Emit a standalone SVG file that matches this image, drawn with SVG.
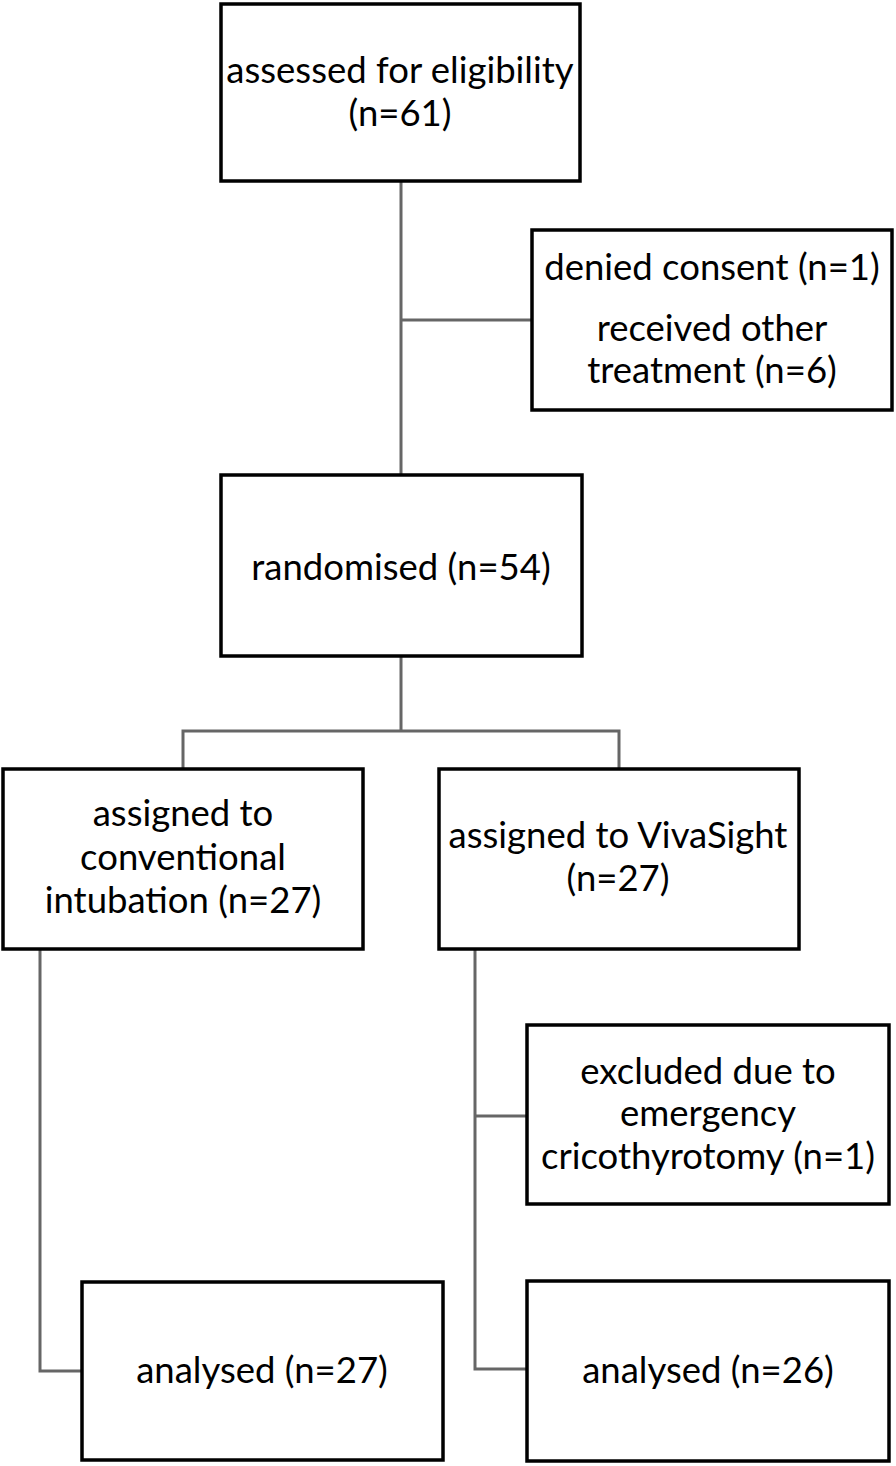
<svg xmlns="http://www.w3.org/2000/svg" width="896" height="1466" viewBox="0 0 896 1466">
<style>
.box{fill:#fff;stroke:#000;stroke-width:3.5}
.t{font-family:Lato,"Open Sans","Liberation Sans",sans-serif;font-size:36.5px;fill:#000;text-anchor:middle}
.c{fill:none;stroke:#666;stroke-width:3}
</style>
<rect width="896" height="1466" fill="#fff"/>
<g id="connectors">
<path class="c" d="M401 182V475M401 320H532"/>
<path class="c" d="M401 656V731M183 769V731H619V769"/>
<path class="c" d="M40 949V1371H82"/>
<path class="c" d="M475 949V1369H527M475 1116H527"/>
</g>
<g id="n1"><rect class="box" x="221" y="4" width="359" height="177"/>
<text class="t" x="400" y="83">assessed for eligibility</text>
<text class="t" x="400" y="126">(n=61)</text></g>
<g id="n2"><rect class="box" x="532" y="230" width="360" height="180"/>
<text class="t" x="712" y="280">denied consent (n=1)</text>
<text class="t" x="712" y="341">received other</text>
<text class="t" x="712" y="383">treatment (n=6)</text></g>
<g id="n3"><rect class="box" x="221" y="475" width="361" height="181"/>
<text class="t" x="401" y="580">randomised (n=54)</text></g>
<g id="n4"><rect class="box" x="3" y="769" width="360" height="180"/>
<text class="t" x="183" y="826">assigned to</text>
<text class="t" x="183" y="870">conventional</text>
<text class="t" x="183" y="913">intubation (n=27)</text></g>
<g id="n5"><rect class="box" x="439" y="769" width="360" height="180"/>
<text class="t" x="618" y="848">assigned to VivaSight</text>
<text class="t" x="618" y="891">(n=27)</text></g>
<g id="n6"><rect class="box" x="527" y="1025" width="362" height="179"/>
<text class="t" x="708" y="1084">excluded due to</text>
<text class="t" x="708" y="1126">emergency</text>
<text class="t" x="708" y="1169">cricothyrotomy (n=1)</text></g>
<g id="n7"><rect class="box" x="527" y="1281" width="362" height="180"/>
<text class="t" x="708" y="1383">analysed (n=26)</text></g>
<g id="n8"><rect class="box" x="82" y="1282" width="361" height="178"/>
<text class="t" x="262" y="1383">analysed (n=27)</text></g>
</svg>
